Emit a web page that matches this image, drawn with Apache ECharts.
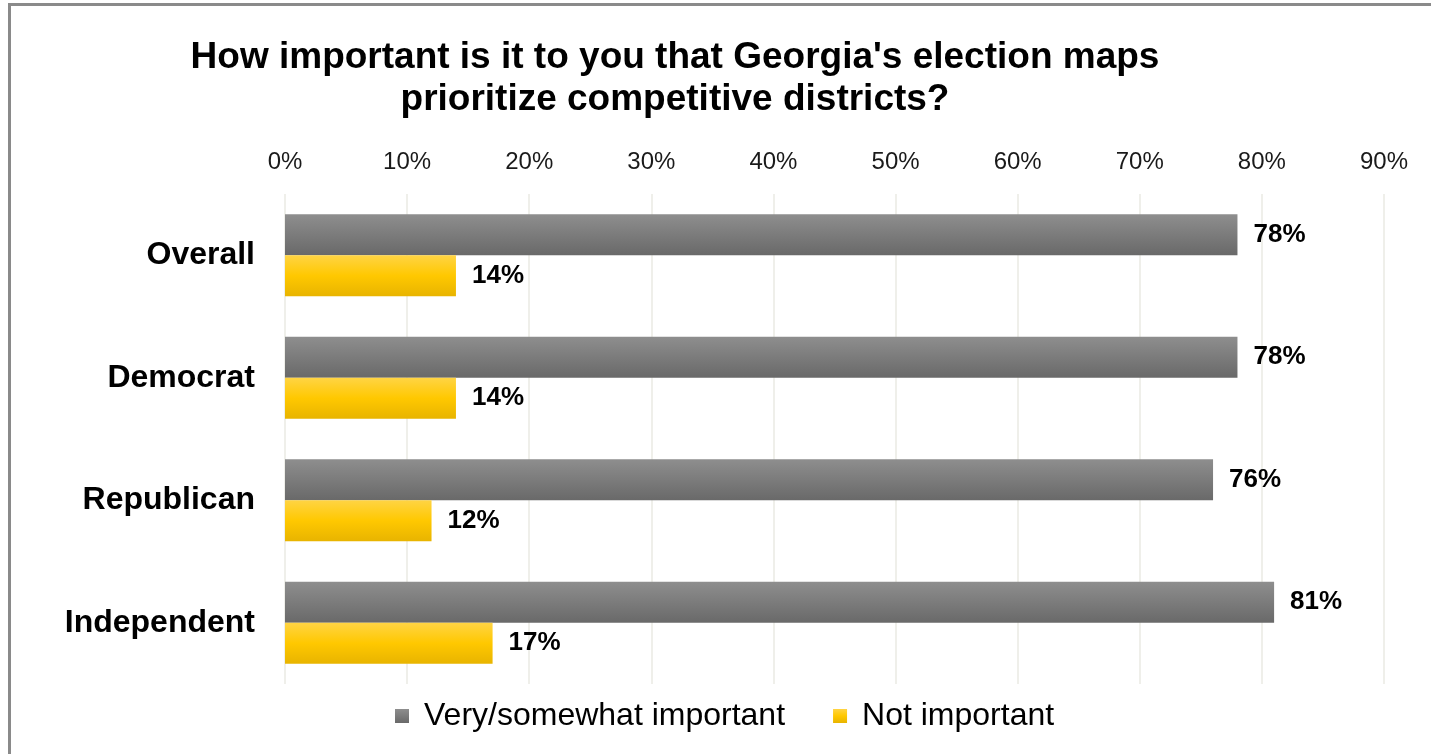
<!DOCTYPE html>
<html><head><meta charset="utf-8">
<script src="https://cdn.jsdelivr.net/npm/echarts@6/dist/echarts.min.js"></script>
<style>html,body{margin:0;padding:0;background:#fff}#c{width:1431px;height:754px}</style>
</head><body><div id="c"></div>
<script>
const categories = ['Overall', 'Democrat', 'Republican', 'Independent'];
const important = [78, 78, 76, 81];
const notImportant = [14, 14, 12, 17];
const seriesNames = ['Very/somewhat important', 'Not important'];
const titleText = "How important is it to you that Georgia's election maps\nprioritize competitive districts?";

const grayGrad = new echarts.graphic.LinearGradient(0,0,0,1,[{offset:0,color:'#8e8e8e'},{offset:1,color:'#696969'}]);
const yellowGrad = new echarts.graphic.LinearGradient(0,0,0,1,[{offset:0,color:'#ffd444'},{offset:0.5,color:'#ffc800'},{offset:1,color:'#e8b400'}]);
const font = '"Liberation Sans", Arial, sans-serif';
const chart = echarts.init(document.getElementById('c'), null, {renderer:'canvas'});
chart.setOption({
  animation:false,
  textStyle:{fontFamily:font},
  graphic:[{type:'rect', shape:{x:9.5,y:4.5,width:1500,height:800}, style:{fill:'none',stroke:'#8a8a8a',lineWidth:3}, silent:true}],
  title:{text:titleText, left:670, top:32, textAlign:'center',
    textStyle:{fontFamily:font,fontSize:37,fontWeight:'bold',color:'#000',lineHeight:42}},
  legend:{bottom:17, left:390, itemWidth:14, itemHeight:14, itemGap:48, icon:'rect',
    textStyle:{fontFamily:font,fontSize:32,color:'#000', padding:[0,0,0,10]}, data:seriesNames},
  grid:{left:285, right:47, top:194, bottom:70},
  xAxis:{type:'value', position:'top', min:0, max:90, interval:10,
    axisLabel:{formatter:'{value}%', fontSize:24, color:'#1a1a1a', fontFamily:font, margin:20},
    axisLine:{show:false}, axisTick:{show:false},
    splitLine:{show:true, lineStyle:{color:'#efefea', width:2}}},
  yAxis:{type:'category', data:categories, inverse:true,
    axisLabel:{fontSize:32, fontWeight:'bold', color:'#000', fontFamily:font, margin:30},
    axisLine:{show:false}, axisTick:{show:false}},
  series:[
    {name:seriesNames[0], type:'bar', data:important, barGap:'0%', barCategoryGap:'33%',
     itemStyle:{color:grayGrad},
     label:{show:true, position:'right', distance:16, formatter:'{c}%', fontSize:26, fontWeight:'bold', color:'#000', fontFamily:font}},
    {name:seriesNames[1], type:'bar', data:notImportant, barGap:'0%', barCategoryGap:'33%',
     itemStyle:{color:yellowGrad},
     label:{show:true, position:'right', distance:16, formatter:'{c}%', fontSize:26, fontWeight:'bold', color:'#000', fontFamily:font}}
  ]
});
</script></body></html>
